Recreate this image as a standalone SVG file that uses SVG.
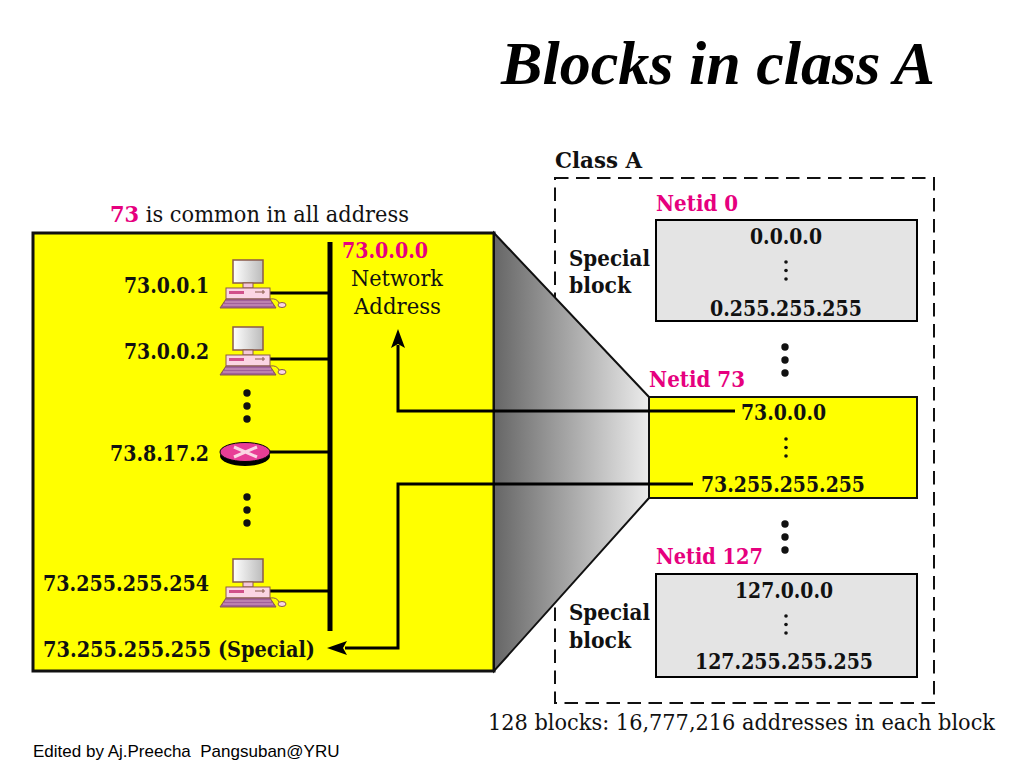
<svg xmlns="http://www.w3.org/2000/svg" xmlns:xlink="http://www.w3.org/1999/xlink" width="1024" height="768" viewBox="0 0 1024 768">
<style>
text{font-family:"DejaVu Serif","Liberation Serif",serif;font-size:22px;fill:#111}
.b{font-weight:bold}
.m{fill:#e6007e;font-weight:bold}
.w{stroke:#000;stroke-width:3;fill:none}
.box{stroke:#000;stroke-width:2;fill:#e4e4e4}
</style>
<defs>
<linearGradient id="g" x1="0" x2="1" y1="0" y2="0"><stop offset="0" stop-color="#666"/><stop offset="1" stop-color="#ececec"/></linearGradient>
<linearGradient id="s" x1="0" x2="1" y1="0" y2="0"><stop offset="0" stop-color="#fff"/><stop offset="1" stop-color="#bbb"/></linearGradient>
<g id="pc">
<rect x="14" y="0" width="30" height="23" fill="url(#s)" stroke="#8a5a4a" stroke-width="1.5"/>
<rect x="24" y="23" width="10" height="5" fill="#f5c8d8" stroke="#8a5a4a"/>
<rect x="7" y="28" width="44" height="11" fill="#fbd5e3" stroke="#8a5a4a"/>
<rect x="10" y="31" width="15" height="3" fill="#d0508a"/>
<path d="M36 32h10M44 30v4" stroke="#8a5a4a"/>
<path d="M7 39H51L57 48H1Z" fill="#a0609a" stroke="#8a5a4a"/>
<path d="M6 42H52M4 45H54" stroke="#f0c0d8" stroke-width=".7"/>
<path d="M51 39Q58 38 60 43" fill="none" stroke="#8a5a4a"/>
<ellipse cx="63" cy="45" rx="4" ry="2.5" fill="#fbd5e3" stroke="#8a5a4a"/>
</g>
<g id="dots"><circle cx="0" cy="0" r="3.7"/><circle cx="0" cy="13" r="3.7"/><circle cx="0" cy="26" r="3.7"/></g>
<g id="sd"><circle cx="0" cy="0" r="1.8"/><circle cx="0" cy="8.5" r="1.8"/><circle cx="0" cy="17" r="1.8"/></g>
</defs>
<rect width="1024" height="768" fill="#fff"/>
<text id="title" x="501" y="84" textLength="434" lengthAdjust="spacingAndGlyphs" style="font-family:'Liberation Serif',serif;font-size:62px;font-weight:bold;font-style:italic;fill:#000">Blocks in class A</text>
<text x="110" y="222" textLength="299" lengthAdjust="spacingAndGlyphs"><tspan class="m">73</tspan> is common in all address</text>
<rect id="classA" x="555" y="178" width="379" height="525" fill="none" stroke="#111" stroke-width="2" stroke-dasharray="13.5 7.5"/>
<g id="lan"><rect x="33" y="233" width="461" height="438" fill="#ff0" stroke="#111" stroke-width="3"/></g>
<g id="funnel"><path d="M494 233L649 397V498L494 671Z" fill="url(#g)" stroke="#111" stroke-width="2"/></g>
<text x="555" y="168" class="b" textLength="87" lengthAdjust="spacingAndGlyphs">Class A</text>
<g id="net0"><text x="656" y="211" class="m" textLength="82" lengthAdjust="spacingAndGlyphs">Netid 0</text><rect class="box" x="656" y="220" width="261" height="101"/>
<text x="750" y="244" class="b" textLength="72" lengthAdjust="spacingAndGlyphs">0.0.0.0</text><text x="710" y="316" class="b" textLength="152" lengthAdjust="spacingAndGlyphs">0.255.255.255</text></g>
<g id="net73"><text x="649" y="387" class="m" textLength="96" lengthAdjust="spacingAndGlyphs">Netid 73</text><rect x="649" y="397" width="268" height="101" fill="#ff0" stroke="#111" stroke-width="2"/>
<text x="741" y="420" class="b" textLength="85" lengthAdjust="spacingAndGlyphs">73.0.0.0</text><text x="701" y="492" class="b" textLength="164" lengthAdjust="spacingAndGlyphs">73.255.255.255</text></g>
<g id="net127"><text x="656" y="564" class="m" textLength="107" lengthAdjust="spacingAndGlyphs">Netid 127</text><rect class="box" x="656" y="574" width="261" height="103"/>
<text x="735" y="598" class="b" textLength="98" lengthAdjust="spacingAndGlyphs">127.0.0.0</text><text x="695" y="669" class="b" textLength="178" lengthAdjust="spacingAndGlyphs">127.255.255.255</text></g>
<text x="569" y="266" class="b" textLength="81" lengthAdjust="spacingAndGlyphs">Special</text><text x="569" y="293" class="b" textLength="62" lengthAdjust="spacingAndGlyphs">block</text>
<text x="569" y="620" class="b" textLength="81" lengthAdjust="spacingAndGlyphs">Special</text><text x="569" y="648" class="b" textLength="62" lengthAdjust="spacingAndGlyphs">block</text>
<g fill="#111"><use xlink:href="#sd" x="786" y="262"/><use xlink:href="#sd" x="786" y="439"/><use xlink:href="#sd" x="786" y="616"/>
<use xlink:href="#dots" x="785" y="347"/><use xlink:href="#dots" x="785" y="524"/>
<use xlink:href="#dots" x="247" y="393"/><use xlink:href="#dots" x="247" y="497"/></g>
<g id="connectors">
<path d="M330 242V631" stroke="#000" stroke-width="5" fill="none"/>
<path class="w" d="M270 293H330M270 359H330M270 452H330M270 591H330"/>
<path class="w" d="M735 411H398V345"/>
<path d="M398 329L391 348L398 344L405 348Z" fill="#000"/>
<path class="w" d="M693 484H398V648H345"/>
<path d="M327 648L347 641L343 648L347 655Z" fill="#000"/>
</g>
<g id="h1"><use xlink:href="#pc" x="219" y="260"/><text x="124" y="293" class="b" textLength="85" lengthAdjust="spacingAndGlyphs">73.0.0.1</text></g>
<g id="h2"><use xlink:href="#pc" x="219" y="327"/><text x="124" y="359" class="b" textLength="85" lengthAdjust="spacingAndGlyphs">73.0.0.2</text></g>
<g id="router"><ellipse cx="245" cy="456" rx="25" ry="10" fill="#000"/><ellipse cx="245" cy="452" rx="25" ry="9.5" fill="#e83e96" stroke="#000"/><path d="M234 447L257 457M234 457L257 447" stroke="#fbd5e3" stroke-width="3"/><text x="110" y="461" class="b" textLength="99" lengthAdjust="spacingAndGlyphs">73.8.17.2</text></g>
<g id="h3"><use xlink:href="#pc" x="219" y="559"/><text x="43" y="591" class="b" textLength="166" lengthAdjust="spacingAndGlyphs">73.255.255.254</text></g>
<text x="43" y="657" class="b" textLength="272" lengthAdjust="spacingAndGlyphs">73.255.255.255 (Special)</text>
<text x="342" y="258" class="m" textLength="86" lengthAdjust="spacingAndGlyphs">73.0.0.0</text>
<text x="351" y="286" textLength="92" lengthAdjust="spacingAndGlyphs">Network</text><text x="354" y="314" textLength="87" lengthAdjust="spacingAndGlyphs">Address</text>
<text x="488" y="730" textLength="507" lengthAdjust="spacingAndGlyphs">128 blocks: 16,777,216 addresses in each block</text>
<text x="33" y="757" xml:space="preserve" style="font-family:'Liberation Sans',sans-serif;font-size:17px;fill:#000">Edited by Aj.Preecha  Pangsuban@YRU</text>
</svg>
